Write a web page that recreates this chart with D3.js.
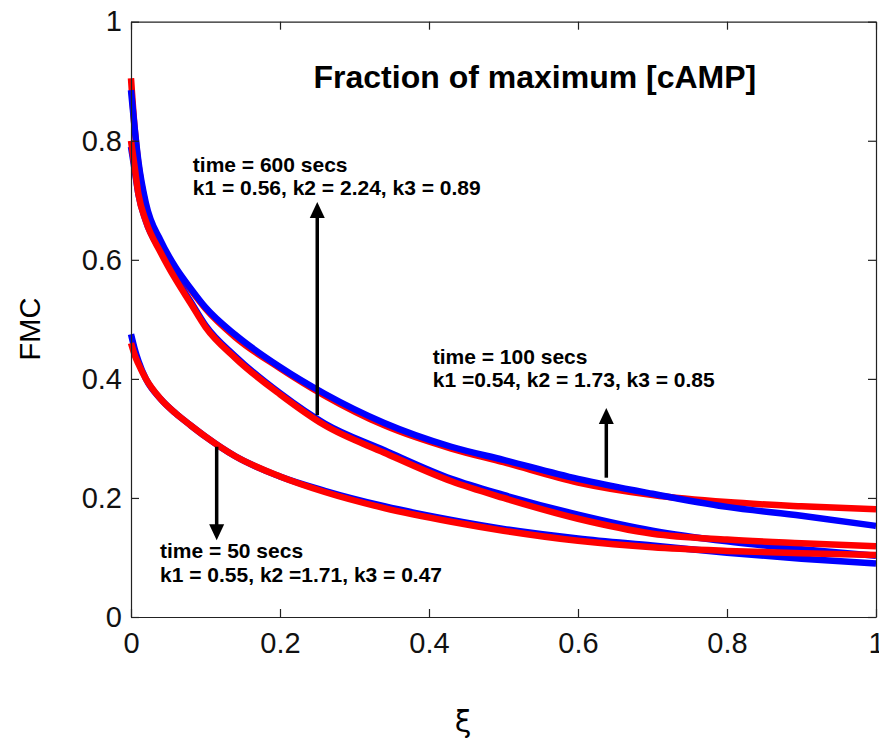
<!DOCTYPE html>
<html>
<head>
<meta charset="utf-8">
<script src="https://d3js.org/d3.v7.min.js"></script>
<style>
body { margin: 0; background: #fff; }
svg { display: block; font-family: Arial, "Liberation Sans", sans-serif; }
</style>
</head>
<body>
<svg></svg>
<script>

var width = 879;
var height = 747;

// sample positions along xi, shared by all six curves
var xi = [0, 0.005, 0.01, 0.02, 0.04, 0.06, 0.08, 0.1, 0.14, 0.2, 0.26, 0.34, 0.43, 0.5, 0.6, 0.7, 0.8, 0.9, 1];

// top pair
var topData = [0.885, 0.82, 0.765, 0.695, 0.632, 0.587, 0.552, 0.52, 0.474, 0.42, 0.375, 0.326, 0.286, 0.264, 0.232, 0.207, 0.185, 0.17, 0.153];
var topFit  = [0.905, 0.82, 0.76, 0.69, 0.628, 0.585, 0.55, 0.518, 0.47, 0.418, 0.372, 0.322, 0.283, 0.26, 0.226, 0.205, 0.193, 0.186, 0.181];
// middle pair
var midData = [0.79, 0.75, 0.71, 0.665, 0.615, 0.57, 0.53, 0.49, 0.438, 0.376, 0.325, 0.28, 0.232, 0.205, 0.172, 0.145, 0.127, 0.114, 0.103];
var midFit  = [0.80, 0.755, 0.71, 0.665, 0.612, 0.567, 0.527, 0.487, 0.435, 0.374, 0.322, 0.276, 0.228, 0.20, 0.165, 0.14, 0.13, 0.124, 0.119];
// bottom pair
var lowData = [0.475, 0.45, 0.43, 0.40, 0.366, 0.342, 0.322, 0.303, 0.27, 0.236, 0.212, 0.186, 0.163, 0.148, 0.132, 0.12, 0.108, 0.098, 0.09];
var lowFit  = [0.46, 0.44, 0.425, 0.40, 0.366, 0.342, 0.322, 0.303, 0.27, 0.236, 0.21, 0.183, 0.16, 0.145, 0.128, 0.117, 0.111, 0.107, 0.104];

var xTicks = [0, 0.2, 0.4, 0.6, 0.8, 1];
var yTicks = [0, 0.2, 0.4, 0.6, 0.8, 1];
var tickLabels = ["0", "0.2", "0.4", "0.6", "0.8", "1"];

// arrows: x position, tail value, head value
var arrows = [
	{ x: 0.25,  from: 0.339, to: 0.697 },
	{ x: 0.638, from: 0.234, to: 0.351 },
	{ x: 0.115, from: 0.286, to: 0.129 }
];

var notes = [
	{ x: 0.083, y: 0.748, lines: ["time = 600 secs", "k1 = 0.56, k2 = 2.24, k3 = 0.89"] },
	{ x: 0.405, y: 0.425, lines: ["time = 100 secs", "k1 =0.54, k2 = 1.73, k3 = 0.85"] },
	{ x: 0.039, y: 0.099, lines: ["time = 50 secs", "k1 = 0.55, k2 =1.71, k3 = 0.47"] }
];

var svg = d3.select("svg").attr("width", width).attr("height", height);

var xScale = d3.scaleLinear().domain([0, 1]).range([131, 876]);
var yScale = d3.scaleLinear().domain([0, 1]).range([617, 21.7]);

// draw order: fits on top except the upper pair
var series = [
	{ values: topFit, color: "#ff0000" },
	{ values: topData, color: "#0000ff" },
	{ values: midData, color: "#0000ff" },
	{ values: midFit, color: "#ff0000" },
	{ values: lowData, color: "#0000ff" },
	{ values: lowFit, color: "#ff0000" }
];

var line = d3.line()
.x(function (d, i) { return xScale(xi[i]); })
.y(function (d) { return yScale(d); })
.curve(d3.curveMonotoneX);

var plot = svg.append("g");
plot.selectAll("path").data(series).enter().append("path")
.attr("d", function (d) { return line(d.values); })
.attr("fill", "none")
.attr("stroke", function (d) { return d.color; })
.attr("stroke-width", 6.5);

// axes, ticks pointing inward on all four sides
function styleAxis(g) {
	g.selectAll("path, line").attr("stroke", "#222").attr("stroke-width", 1.2);
	g.selectAll("text").attr("font-size", 29).attr("fill", "#111")
	.attr("font-family", "Arial, 'Liberation Sans', sans-serif");
}

svg.append("g").attr("transform", "translate(0," + yScale(0) + ")")
.call(d3.axisBottom(xScale).tickValues(xTicks).tickSize(-8).tickSizeOuter(0).tickPadding(15)
.tickFormat(function (d, i) { return tickLabels[i]; }))
.call(styleAxis);
svg.append("g").attr("transform", "translate(0," + yScale(1) + ")")
.call(d3.axisTop(xScale).tickValues(xTicks).tickSize(-8).tickSizeOuter(0).tickFormat(""))
.call(styleAxis);
svg.append("g").attr("transform", "translate(" + xScale(0) + ",0)")
.call(d3.axisLeft(yScale).tickValues(yTicks).tickSize(-8).tickSizeOuter(0).tickPadding(9)
.tickFormat(function (d, i) { return tickLabels[i]; }))
.call(styleAxis);
svg.append("g").attr("transform", "translate(" + xScale(1) + ",0)")
.call(d3.axisRight(yScale).tickValues(yTicks).tickSize(-8).tickSizeOuter(0).tickFormat(""))
.call(styleAxis);
svg.selectAll(".domain").attr("fill", "none");

// axis labels
svg.append("text")
.attr("transform", "translate(40,329) rotate(-90)")
.attr("text-anchor", "middle")
.attr("font-size", 29)
.text("FMC");
svg.append("text")
.attr("x", 463).attr("y", 732)
.attr("text-anchor", "middle")
.attr("font-size", 30)
.attr("font-family", "'DejaVu Sans', sans-serif")
.text("ξ");

// title inside the axes
svg.append("text")
.attr("x", xScale(0.245)).attr("y", yScale(0.889))
.attr("font-size", 32).attr("font-weight", "bold")
.text("Fraction of maximum [cAMP]");

// annotations
var noteText = svg.selectAll(".note").data(notes).enter().append("text")
.attr("class", "note")
.attr("font-size", 21).attr("font-weight", "bold");
noteText.selectAll("tspan").data(function (d) {
	return d.lines.map(function (l) { return { x: d.x, y: d.y, text: l }; });
}).enter().append("tspan")
.attr("x", function (d) { return xScale(d.x); })
.attr("y", function (d, i) { return yScale(d.y) + i * 23.5; })
.text(function (d) { return d.text; });

// arrows
var headLen = 16, headHalf = 7.5;
var arrowG = svg.selectAll(".arrow").data(arrows).enter().append("g").attr("class", "arrow");
arrowG.append("line")
.attr("x1", function (d) { return xScale(d.x); })
.attr("x2", function (d) { return xScale(d.x); })
.attr("y1", function (d) { return yScale(d.from); })
.attr("y2", function (d) {
	var dir = d.to > d.from ? 1 : -1;
	return yScale(d.to) + dir * (headLen - 2);
})
.attr("stroke", "#000").attr("stroke-width", 3.5);
arrowG.append("path")
.attr("d", function (d) {
	var x = xScale(d.x), y = yScale(d.to);
	var dir = d.to > d.from ? 1 : -1;
	return "M" + x + "," + y + "L" + (x - headHalf) + "," + (y + dir * headLen) +
		"L" + (x + headHalf) + "," + (y + dir * headLen) + "Z";
})
.attr("fill", "#000");

</script>
</body>
</html>
